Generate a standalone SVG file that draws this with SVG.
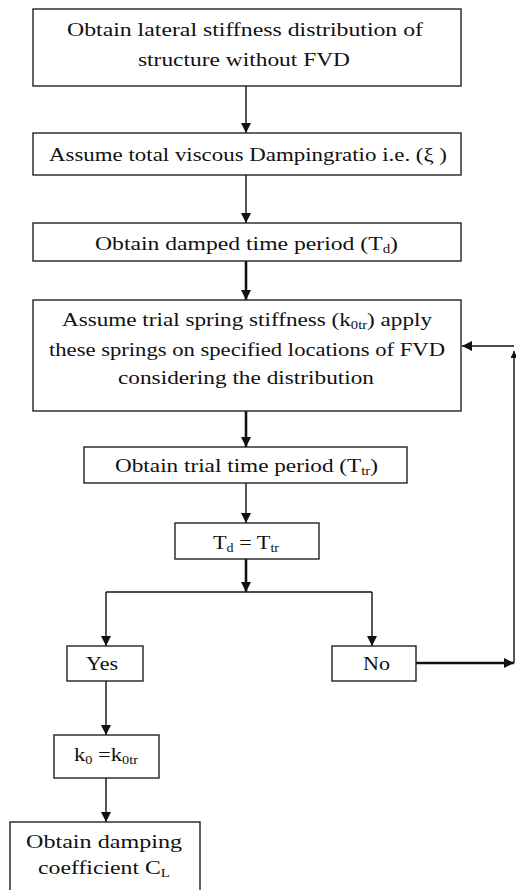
<svg xmlns="http://www.w3.org/2000/svg" width="516" height="890" viewBox="0 0 516 890">
<style>
.box{fill:#fff;stroke:#222;stroke-width:1.4}
.t{font-family:"Liberation Serif","DejaVu Serif",serif;font-size:19px;fill:#111;text-anchor:start}
.c{fill:none;stroke:#111;stroke-width:1.4}
.k{fill:none;stroke:#111;stroke-width:2.6}
.sub{font-size:12px}
</style>
<defs>
<marker id="ah" viewBox="0 0 10 10" refX="10" refY="5" markerWidth="10" markerHeight="10" markerUnits="userSpaceOnUse" orient="auto"><path d="M0,0 L10,5 L0,10 z" fill="#111"/></marker>
<marker id="ahs" viewBox="0 0 10 10" refX="10" refY="5" markerWidth="7" markerHeight="7" markerUnits="userSpaceOnUse" orient="auto"><path d="M0,0 L10,5 L0,10 z" fill="#111"/></marker>
</defs>
<rect width="516" height="890" fill="#fff"/>
<g id="connectors">
<path class="c" d="M246,86 V133" marker-end="url(#ah)"/>
<path class="c" d="M246,175 V223" marker-end="url(#ah)"/>
<path class="k" d="M246,261 V300" marker-end="url(#ah)"/>
<path class="k" d="M246,411 V447" marker-end="url(#ah)"/>
<path class="c" d="M246,483 V523" marker-end="url(#ah)"/>
<path class="k" d="M246,559 V592" marker-end="url(#ah)"/>
<path class="c" d="M106,592 H372"/>
<path class="c" d="M106,592 V646" marker-end="url(#ah)"/>
<path class="c" d="M372,592 V646" marker-end="url(#ah)"/>
<path class="k" d="M416,663 H514" marker-end="url(#ah)"/>
<path class="c" d="M514,663 V351" marker-end="url(#ahs)"/>
<path class="c" d="M514,346 H462" marker-end="url(#ah)"/>
<path class="c" d="M106,681 V735" marker-end="url(#ah)"/>
<path class="c" d="M106,778 V822" marker-end="url(#ah)"/>
</g>
<g id="n1">
<rect class="box" x="33" y="9" width="428" height="77"/>
<text class="t" x="67" y="36" textLength="356" lengthAdjust="spacingAndGlyphs">Obtain lateral stiffness distribution of</text>
<text class="t" x="138" y="66" textLength="212" lengthAdjust="spacingAndGlyphs">structure without FVD</text>
</g>
<g id="n2">
<rect class="box" x="33" y="133" width="428" height="42"/>
<text class="t" x="49" y="161" textLength="398" lengthAdjust="spacingAndGlyphs">Assume total viscous Dampingratio i.e. (ξ )</text>
</g>
<g id="n3">
<rect class="box" x="33" y="223" width="428" height="38"/>
<text class="t" x="95" y="250" textLength="303" lengthAdjust="spacingAndGlyphs">Obtain damped time period (T<tspan class="sub" dy="3">d</tspan><tspan dy="-3">)</tspan></text>
</g>
<g id="n4">
<rect class="box" x="33" y="300" width="428" height="111"/>
<text class="t" x="62" y="326" textLength="370" lengthAdjust="spacingAndGlyphs">Assume trial spring stiffness (k<tspan class="sub" dy="3">0tr</tspan><tspan dy="-3">) apply</tspan></text>
<text class="t" x="49" y="356" textLength="396" lengthAdjust="spacingAndGlyphs">these springs on specified locations of FVD</text>
<text class="t" x="118" y="384" textLength="256" lengthAdjust="spacingAndGlyphs">considering the distribution</text>
</g>
<g id="n5">
<rect class="box" x="84" y="447" width="323" height="36"/>
<text class="t" x="115" y="472" textLength="263" lengthAdjust="spacingAndGlyphs">Obtain trial time period (T<tspan class="sub" dy="3">tr</tspan><tspan dy="-3">)</tspan></text>
</g>
<g id="n6">
<rect class="box" x="175" y="523" width="144" height="36"/>
<text class="t" x="213" y="549" textLength="66" lengthAdjust="spacingAndGlyphs">T<tspan class="sub" dy="3">d</tspan><tspan dy="-3"> = T</tspan><tspan class="sub" dy="3">tr</tspan></text>
</g>
<g id="n7">
<rect class="box" x="67" y="646" width="76" height="35"/>
<text class="t" x="86" y="670" textLength="32" lengthAdjust="spacingAndGlyphs">Yes</text>
</g>
<g id="n8">
<rect class="box" x="332" y="646" width="84" height="35"/>
<text class="t" x="363" y="670" textLength="27" lengthAdjust="spacingAndGlyphs">No</text>
</g>
<g id="n9">
<rect class="box" x="54" y="735" width="105" height="43"/>
<text class="t" x="74" y="761" textLength="64" lengthAdjust="spacingAndGlyphs">k<tspan class="sub" dy="3">0</tspan><tspan dy="-3"> =k</tspan><tspan class="sub" dy="3">0tr</tspan></text>
</g>
<g id="n10">
<rect class="box" x="10" y="822" width="190" height="80"/>
<text class="t" x="26" y="848" textLength="156" lengthAdjust="spacingAndGlyphs">Obtain damping</text>
<text class="t" x="38" y="874" textLength="132" lengthAdjust="spacingAndGlyphs">coefficient C<tspan class="sub" dy="3">L</tspan></text>
</g>
</svg>
